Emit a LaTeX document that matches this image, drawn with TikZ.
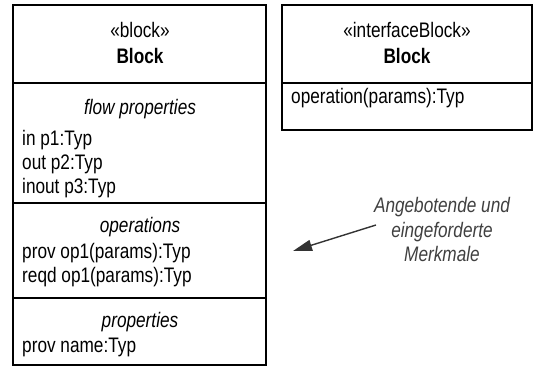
\documentclass[tikz,border=0pt]{standalone}
\usepackage{fontspec}
\setmainfont{Liberation Sans}[FakeStretch=0.82]
\usetikzlibrary{arrows.meta}

\begin{document}
\begin{tikzpicture}[x=1pt,y=-1pt,
    txt/.style={inner sep=0pt,anchor=base,font=\fontsize{21}{25}\selectfont},
    lft/.style={txt,anchor=base west},
    box/.style={line width=1.5pt},
    note/.style={txt,font=\fontsize{21}{25}\selectfont\itshape,text=black!75}]
    \useasboundingbox (0,0) rectangle (533,371);
    % block
    \draw[box] (13,5) rectangle (266,365);
    \draw[box] (13,83)--(266,83);
    \draw[box] (13,203)--(266,203);
    \draw[box] (13,298)--(266,298);
    \node[txt] (blockSt) at (140,38) {«block»};
    \node[txt,font=\fontsize{21}{25}\selectfont\bfseries] (blockName) at (140,64) {Block};
    \node[txt,font=\fontsize{21}{25}\selectfont\itshape] (flowHead) at (140,115) {flow properties};
    \node[lft] (flowA) at (22,146) {in p1:Typ};
    \node[lft] (flowB) at (22,170) {out p2:Typ};
    \node[lft] (flowC) at (22,194) {inout p3:Typ};
    \node[txt,font=\fontsize{21}{25}\selectfont\itshape] (opHead) at (140,233) {operations};
    \node[lft] (opA) at (22,259) {prov op1(params):Typ};
    \node[lft] (opB) at (22,283) {reqd op1(params):Typ};
    \node[txt,font=\fontsize{21}{25}\selectfont\itshape] (propHead) at (140,328) {properties};
    \node[lft] (propA) at (22,353) {prov name:Typ};
    % interface block
    \draw[box] (282,5) rectangle (532,130);
    \draw[box] (282,83)--(532,83);
    \node[txt] (ifSt) at (407,38) {«interfaceBlock»};
    \node[txt,font=\fontsize{21}{25}\selectfont\bfseries] (ifName) at (407,64) {Block};
    \node[lft] (ifOp) at (291,104) {operation(params):Typ};
    % note
    \node[note] (noteA) at (442,213) {Angebotende und};
    \node[note] (noteB) at (442,238) {eingeforderte};
    \node[note] (noteC) at (442,262) {Merkmale};
    \coordinate (arrStart) at (376,225);
    \coordinate (arrEnd) at (293,251);
    \draw[line width=1.4pt,black!80,-{Triangle[length=19pt,width=11pt]}] (arrStart)--(arrEnd);
\end{tikzpicture}
\end{document}
